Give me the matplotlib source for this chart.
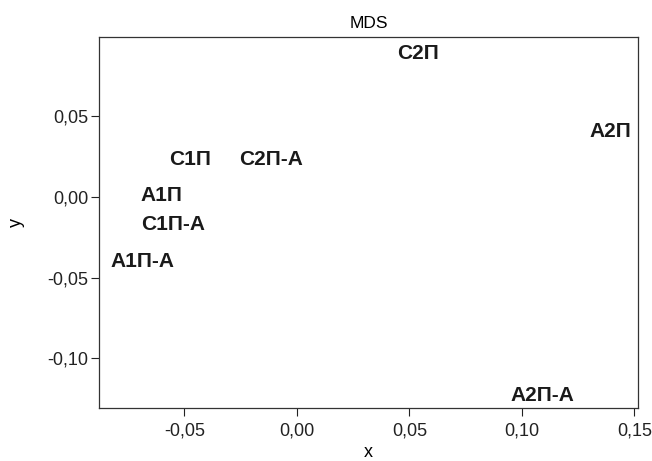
import numpy as np
import matplotlib
matplotlib.use("Agg")
import matplotlib.pyplot as plt

plt.rcParams['font.family'] = ['Liberation Sans', 'DejaVu Sans']

# MDS coordinates
labels = ['С2П', 'А2П', 'С1П', 'С2П-А', 'А1П', 'С1П-А', 'А1П-А', 'А2П-А']
xs = [0.0540, 0.1393, -0.0476, -0.0113, -0.0604, -0.0549, -0.0687, 0.1091]
ys = [0.0886, 0.0403, 0.0232, 0.0232, 0.0012, -0.0170, -0.0400, -0.1227]

xticks = [-0.05, 0.0, 0.05, 0.10, 0.15]
yticks = [-0.10, -0.05, 0.0, 0.05]

fig = plt.figure(figsize=(6.52, 4.61), dpi=100)
ax = fig.add_axes([0.1518, 0.115, 0.8267, 0.8047])

for lab, x, y in zip(labels, xs, ys):
    ax.text(x, y, lab, ha='center', va='center', fontsize=15, fontweight='bold', color='#1a1a1a')

ax.set_xlim(-0.088, 0.1516)
ax.set_ylim(-0.1307, 0.0991)

# comma decimal separators, like the original
ax.set_xticks(xticks)
ax.set_xticklabels([('%.2f' % v).replace('.', ',') for v in xticks])
ax.set_yticks(yticks)
ax.set_yticklabels([('%.2f' % v).replace('.', ',') for v in yticks])

ax.tick_params(direction='out', length=5.5, width=0.8, labelsize=13, colors='#222222')
ax.tick_params(axis='x', pad=5)
ax.tick_params(axis='y', pad=2)
for s in ax.spines.values():
    s.set_linewidth(0.9)
    s.set_color('#333333')

ax.set_title('MDS', fontsize=12.5, pad=6.5)
ax.set_xlabel('x', fontsize=13)
ax.set_ylabel('y', fontsize=13)
ax.xaxis.set_label_coords(0.5, -0.097)
ax.yaxis.set_label_coords(-0.138, 0.5)

fig.savefig('out.png', dpi=100)
